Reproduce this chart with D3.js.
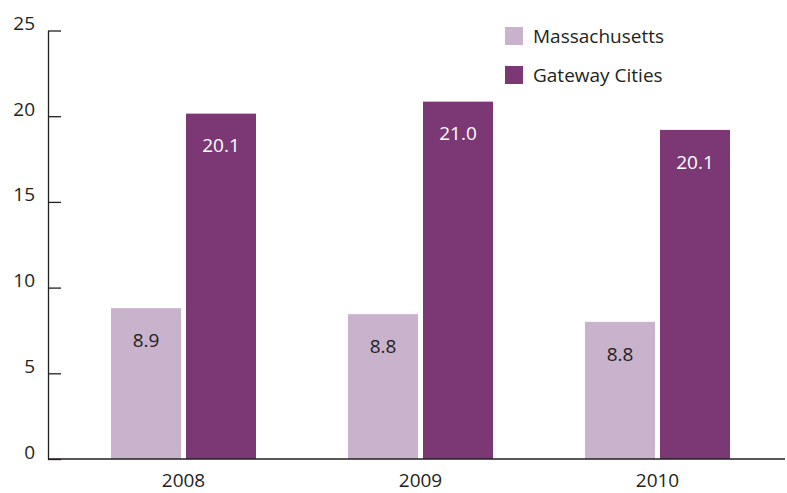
<!DOCTYPE html>
<html><head><meta charset="utf-8">
<script src="https://cdn.jsdelivr.net/npm/d3@7"></script>
<style>body{margin:0;background:#fff}svg{display:block}text{font-family:"Open Sans",sans-serif;fill:#231f20}</style>
</head><body><svg id="c" width="787" height="493"></svg>
<script>
const years = ["2008", "2009", "2010"];
const seriesNames = ["Massachusetts", "Gateway Cities"];
const massValues = [8.8, 8.45, 8.0];
const gatewayValues = [20.15, 20.85, 19.2];
const massLabels = ["8.9", "8.8", "8.8"];
const gatewayLabels = ["20.1", "21.0", "20.1"];
const yTicks = [0, 5, 10, 15, 20, 25];
const colors = ["#c8b2cc", "#7b3874"];

const svg = d3.select("#c");
const y = d3.scaleLinear().domain([0, 25]).range([459, 30.5]);
const x0 = d3.scaleBand().domain(years).range([65, 776]).paddingInner(92/237).paddingOuter(46/237);
const x1 = d3.scaleBand().domain(seriesNames).range([0, x0.bandwidth()]).paddingInner(1/15);

const rows = years.map((yr, i) => ({
  year: yr,
  bars: [
    {s: seriesNames[0], v: massValues[i], label: massLabels[i], color: colors[0], tc: "#231f20"},
    {s: seriesNames[1], v: gatewayValues[i], label: gatewayLabels[i], color: colors[1], tc: "#ffffff"}
  ]
}));

const g = svg.selectAll("g.grp").data(rows).join("g").attr("class","grp")
  .attr("transform", d => `translate(${x0(d.year)},0)`);
g.selectAll("rect").data(d => d.bars).join("rect")
  .attr("x", d => x1(d.s)).attr("width", x1.bandwidth())
  .attr("y", d => y(d.v)).attr("height", d => y(0) - y(d.v))
  .attr("fill", d => d.color);
g.selectAll("text.val").data(d => d.bars).join("text").attr("class","val")
  .attr("x", d => x1(d.s) + x1.bandwidth()/2)
  .attr("y", d => y(d.v) + 32)
  .attr("dy", "0.35em")
  .attr("text-anchor", "middle")
  .style("font-size", "19px")
  .style("fill", d => d.tc)
  .text(d => d.label);

// Y axis
const yAxis = d3.axisLeft(y).tickValues(yTicks).tickSizeInner(-13).tickSizeOuter(0).tickPadding(13);
const ya = svg.append("g").attr("transform", "translate(48,0)").call(yAxis);
ya.select(".domain").attr("stroke", "#231f20").attr("stroke-width", 1.3);
ya.selectAll(".tick line").attr("stroke", "#231f20").attr("stroke-width", 1.3);
ya.selectAll(".tick text").attr("dy", "-0.05em").style("font-size", "19px")
  .style("font-family", "'Open Sans',sans-serif").attr("fill", "#231f20");

// X axis
const xAxis = d3.axisBottom(x0).tickSize(0).tickPadding(15);
const xa = svg.append("g").attr("transform", `translate(0,${y(0)})`).call(xAxis);
xa.select(".domain").attr("d", "M48,0H785").attr("stroke", "#231f20").attr("stroke-width", 1.5);
xa.selectAll(".tick text").style("font-size", "19px")
  .style("font-family", "'Open Sans',sans-serif").attr("fill", "#231f20");

// Legend
const lg = svg.selectAll("g.leg").data(seriesNames).join("g").attr("class","leg")
  .attr("transform", (d, i) => `translate(505,${27 + i*39})`);
lg.append("rect").attr("width", 18).attr("height", 18).attr("fill", (d, i) => colors[i]);
lg.append("text").attr("x", 28).attr("y", 9).attr("dy", "0.35em").style("font-size", "19px").text(d => d);
</script></body></html>
